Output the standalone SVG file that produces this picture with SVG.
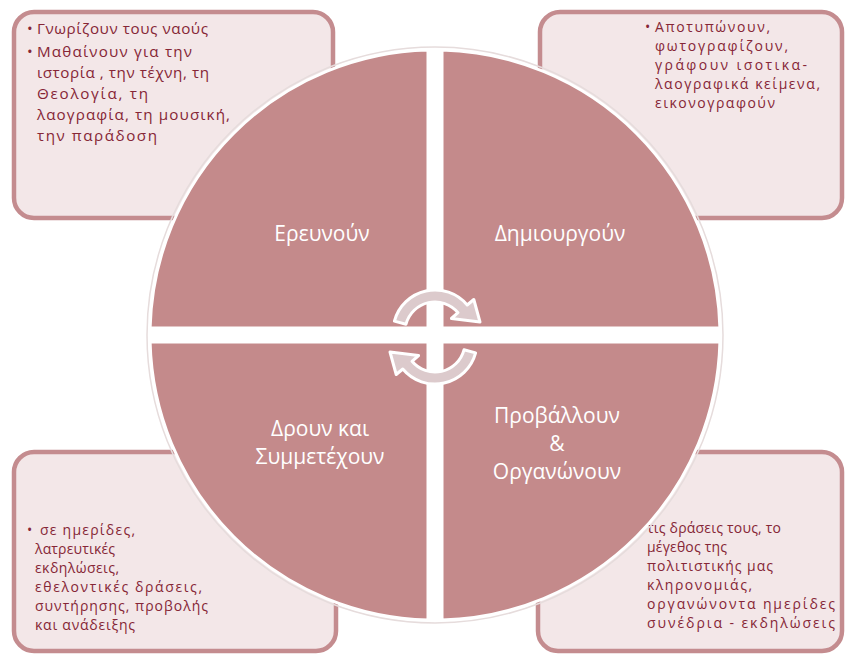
<svg xmlns="http://www.w3.org/2000/svg" width="846" height="655" viewBox="0 0 846 655">
<style>
.box{fill:#f3e7e8;stroke:#c48c8f;stroke-width:4.5}
.bt{font-family:"Open Sans","DejaVu Sans",sans-serif;font-size:14px;fill:#862636}
.bt2{font-family:"Open Sans","DejaVu Sans",sans-serif;font-size:15.2px;fill:#862636}
.q{fill:#c48a8b;stroke:#fff;stroke-width:3}
.ql{font-family:"Open Sans","DejaVu Sans",sans-serif;font-size:21px;fill:#fff;text-anchor:middle}
.arr{fill:#dccacc;stroke:#fff;stroke-width:3;stroke-linejoin:round}
</style>
<defs>
<path id="arrow" class="arr" d="M394.4,321.1 A42,42 0 0,1 467.2,305.0 L473.8,299.5 L480,322 L451.4,318.5 L458.0,312.7 A30,30 0 0,0 406.0,324.2 Z"/>
</defs>
<rect width="846" height="655" fill="#fff"/>
<g id="box-tl">
<rect class="box" x="14" y="12" width="319" height="206" rx="20"/>
<text class="bt2" x="27" y="34">•</text>
<text class="bt2" x="37" y="34" textLength="171">Γνωρίζουν τους ναούς</text>
<text class="bt2" x="27" y="57">•</text>
<text class="bt2" x="37" y="57" textLength="155">Μαθαίνουν για την</text>
<text class="bt2" x="37" y="78" textLength="172">ιστορία , την τέχνη, τη</text>
<text class="bt2" x="37" y="99" textLength="111">Θεολογία, τη</text>
<text class="bt2" x="37" y="120" textLength="193">λαογραφία, τη μουσική,</text>
<text class="bt2" x="37" y="141" textLength="120">την παράδοση</text>
</g>
<g id="box-tr">
<rect class="box" x="540" y="12" width="302" height="206" rx="20"/>
<text class="bt" x="645" y="32">•</text>
<text class="bt" x="655" y="32" textLength="115">Αποτυπώνουν,</text>
<text class="bt" x="655" y="51" textLength="133">φωτογραφίζουν,</text>
<text class="bt" x="655" y="70" textLength="152">γράφουν ισοτικα-</text>
<text class="bt" x="655" y="89" textLength="165">λαογραφικά κείμενα,</text>
<text class="bt" x="655" y="108" textLength="120">εικονογραφούν</text>
</g>
<g id="box-bl">
<rect class="box" x="14" y="452" width="322" height="199" rx="20"/>
<text class="bt" x="27" y="535">•</text>
<text class="bt" x="40" y="535" textLength="95">σε ημερίδες,</text>
<text class="bt" x="35" y="554" textLength="80">λατρευτικές</text>
<text class="bt" x="35" y="573" textLength="84">εκδηλώσεις,</text>
<text class="bt" x="35" y="592" textLength="167">εθελοντικές δράσεις,</text>
<text class="bt" x="35" y="611" textLength="173">συντήρησης, προβολής</text>
<text class="bt" x="35" y="630" textLength="100">και ανάδειξης</text>
</g>
<g id="box-br">
<rect class="box" x="538" y="452" width="304" height="199" rx="20"/>
<text class="bt" x="647" y="533" textLength="134">τις δράσεις τους, το</text>
<text class="bt" x="647" y="552" textLength="80">μέγεθος της</text>
<text class="bt" x="647" y="571" textLength="126">πολιτιστικής μας</text>
<text class="bt" x="647" y="590" textLength="105">κληρονομιάς,</text>
<text class="bt" x="647" y="609" textLength="188">οργανώνοντα ημερίδες</text>
<text class="bt" x="647" y="628" textLength="188">συνέδρια - εκδηλώσεις</text>
</g>
<circle cx="435" cy="335" r="288" fill="none" stroke="#e6dcdc" stroke-width="1.5"/>
<g id="q-tl">
<path class="q" d="M428,328 L428,50.09 A285,285 0 0,0 150.09,328 Z"/>
<text class="ql" x="322" y="241">Ερευνούν</text>
</g>
<g id="q-tr">
<path class="q" d="M442,328 L719.91,328 A285,285 0 0,0 442,50.09 Z"/>
<text class="ql" x="560" y="241">Δημιουργούν</text>
</g>
<g id="q-bl">
<path class="q" d="M428,342 L150.09,342 A285,285 0 0,0 428,619.91 Z"/>
<text class="ql" x="320" y="436">Δρουν και</text>
<text class="ql" x="320" y="464">Συμμετέχουν</text>
</g>
<g id="q-br">
<path class="q" d="M442,342 L442,619.91 A285,285 0 0,0 719.91,342 Z"/>
<text class="ql" x="557" y="423">Προβάλλουν</text>
<text class="ql" x="557" y="451">&amp;</text>
<text class="ql" x="557" y="479">Οργανώνουν</text>
</g>
<g id="connectors">
<use href="#arrow"/>
<use href="#arrow" transform="rotate(180 435 337)"/>
</g>
</svg>
